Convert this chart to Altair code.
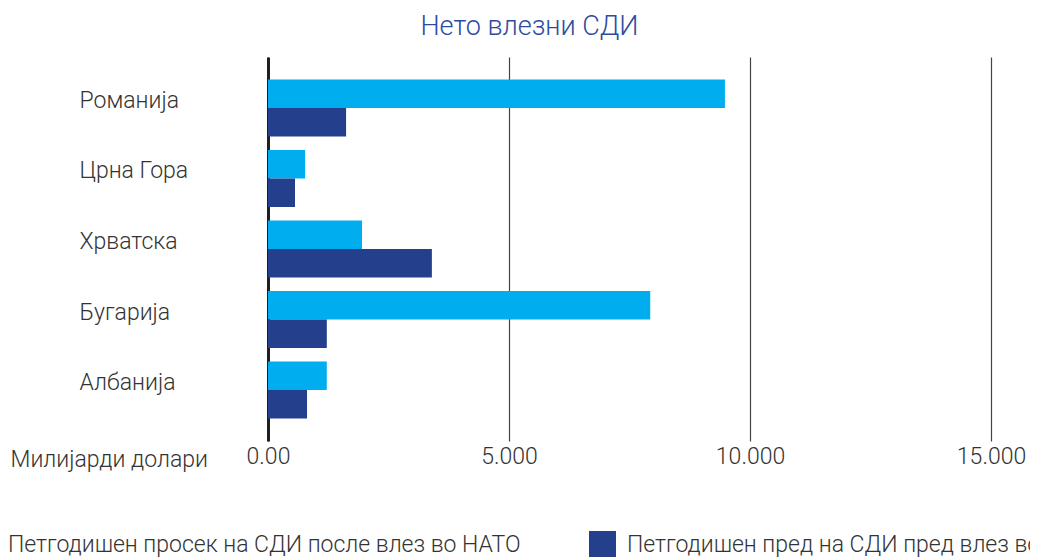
import altair as alt
import pandas as pd

countries = ["Романија", "Црна Гора", "Хрватска", "Бугарија", "Албанија"]
series = ["Петгодишен просек на СДИ после влез во НАТО",
          "Петгодишен пред на СДИ пред влез во НАТО"]
after_vals = [9480, 770, 1950, 7930, 1220]
before_vals = [1620, 560, 3400, 1220, 810]
colors = ["#00AEEF", "#243F8C"]

rows = []
for c, a, b in zip(countries, after_vals, before_vals):
    rows.append({"country": c, "series": series[0], "value": a})
    rows.append({"country": c, "series": series[1], "value": b})
df = pd.DataFrame(rows)

FONT = "Roboto"

bars = alt.Chart(df).mark_bar(size=28.5).encode(
    x=alt.X("value:Q",
            scale=alt.Scale(domain=[0, 15000], nice=False, zero=True),
            axis=alt.Axis(values=[0, 5000, 10000, 15000],
                          labelExpr="datum.value == 0 ? '0.00' : replace(format(datum.value, ','), ',', '.')",
                          domain=False, ticks=False, grid=True, labelFlush=False,
                          gridColor="#444444", gridWidth=1.2,
                          labelFont=FONT, labelFontSize=23, labelFontWeight=300,
                          labelColor="#333333", labelPadding=4,
                          title="Милијарди долари", titleFont=FONT,
                          titleFontSize=23, titleFontWeight=300,
                          titleColor="#333333", titleAlign="left",
                          titleBaseline="middle", titleAnchor="start",
                          titleX=-258, titleY=18)),
    y=alt.Y("country:N", sort=countries,
            scale=alt.Scale(paddingInner=0.19, paddingOuter=0.318),
            axis=alt.Axis(title=None, ticks=False, tickSize=0,
                          domain=True, domainColor="#231F20", domainWidth=3,
                          labelAlign="left", labelPadding=189,
                          labelOffset=-7,
                          labelFont=FONT, labelFontSize=23, labelFontWeight=300,
                          labelColor="#333333")),
    yOffset=alt.YOffset("series:N", sort=series),
    color=alt.Color("series:N", sort=series,
                    scale=alt.Scale(domain=series, range=colors),
                    legend=alt.Legend(title=None, orient="none",
                                      direction="horizontal",
                                      legendX=-298, legendY=474,
                                      symbolType="square", symbolSize=729,
                                      symbolStrokeWidth=0, symbolOpacity=1,
                                      labelFont=FONT, labelFontSize=23,
                                      labelFontWeight=300, labelColor="#333333",
                                      labelOffset=11, columnPadding=68,
                                      labelLimit=0, padding=0)),
).properties(
    width=723, height=384,
    title=alt.Title("Нето влезни СДИ", font=FONT, fontSize=27,
                    fontWeight=300, color="#2E4C9F", anchor="middle",
                    dx=-100, offset=-5, baseline="alphabetic"),
    autosize=alt.AutoSizeParams(type="none"),
    padding={"left": 260, "top": 49, "right": 39, "bottom": 130},
).configure_view(stroke=None)

bars.save("out.html", embed_options={"renderer": "svg", "actions": False})
